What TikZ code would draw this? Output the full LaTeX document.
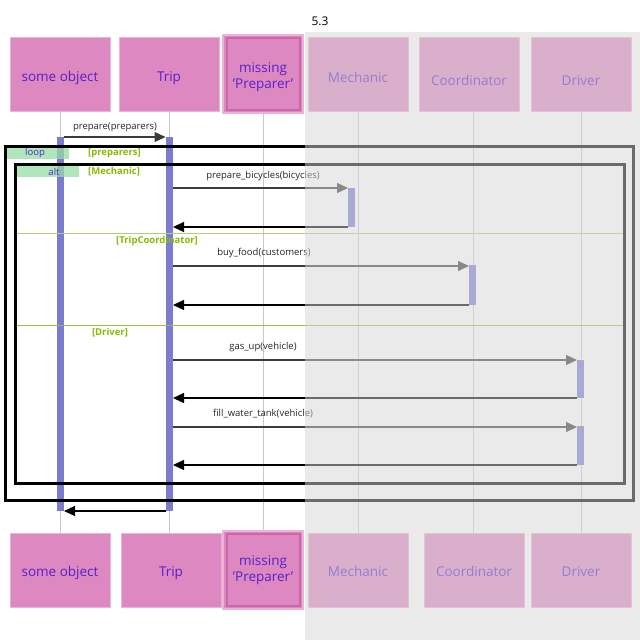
\documentclass[tikz,border=0pt]{standalone}
\usepackage{fontspec}
\setmainfont{Open Sans}
\usetikzlibrary{arrows.meta}
\definecolor{boxfill}{RGB}{221,136,192}
\definecolor{boxedge}{RGB}{234,180,214}
\definecolor{missedge}{RGB}{204,102,170}
\definecolor{boxtext}{RGB}{85,34,204}
\definecolor{actbar}{RGB}{123,123,208}
\definecolor{lifegray}{RGB}{200,200,200}
\definecolor{guardgreen}{RGB}{136,187,0}
\definecolor{taggreen}{RGB}{150,222,165}
\definecolor{sepgreen}{RGB}{176,208,120}
\definecolor{sepgreen2}{RGB}{150,190,70}
\definecolor{ovgray}{RGB}{215,215,215}
\definecolor{msgline}{RGB}{60,60,60}
\newcommand{\lowtext}[2]{\raisebox{#1}[0pt][0pt]{#2}}
\tikzset{
  objbox/.style={draw=boxedge, line width=1pt, fill=boxfill, minimum width=100pt, minimum height=74pt, inner sep=0pt, text=boxtext, font=\fontsize{13.5}{16}\selectfont, align=center},
  missbox/.style={objbox, minimum width=80pt, minimum height=78pt, draw=boxedge, line width=1.5pt},
  lifeline/.style={draw=lifegray, line width=1pt},
  actv/.style={fill=actbar, draw=none},
  frame/.style={draw=black, line width=3pt},
  tag/.style={fill=taggreen, fill opacity=0.75, text opacity=1, text=boxtext, minimum width=62pt, minimum height=11pt, inner sep=0pt, font=\fontsize{9.5}{11}\selectfont},
  guard/.style={text=guardgreen, font=\bfseries\fontsize{9.5}{11}\selectfont, inner sep=0pt},
  msglabel/.style={font=\fontsize{9.5}{11}\selectfont, text=black!85, inner sep=0pt},
  call/.style={draw=msgline, line width=1.2pt, -{Triangle[length=11pt,width=10pt]}},
  ret/.style={draw=black, line width=1.2pt, -{Triangle[length=11pt,width=10pt]}},
}
\begin{document}
\begin{tikzpicture}[x=1pt,y=-1pt]
\useasboundingbox (0,0) rectangle (640,640);
\fill[white] (0,0) rectangle (640,640);

% lifelines
\foreach \n/\x in {so/60, tr/169, mp/263, me/358, co/473, dr/581}{
  \coordinate (\n top) at (\x,111);
  \coordinate (\n bot) at (\x,533);
  \draw[lifeline] (\n top) -- (\n bot);
}

% title
\node[font=\fontsize{12}{14}\selectfont] (title) at (320,21) {5.3};

% top boxes
\node[objbox] (so1) at (60,74) {\lowtext{-7pt}{some object}};
\node[objbox] (tr1) at (169,74) {\lowtext{-7pt}{Trip}};
\node[missbox] (mp1) at (263,74) {\lowtext{-6.5pt}{\begin{tabular}{@{}c@{}}missing\\'Preparer'\end{tabular}}};
\draw[missedge, line width=2pt] (227,38) rectangle (300,110);
\node[objbox] (me1) at (358,74) {\lowtext{-8pt}{Mechanic}};
\node[objbox] (co1) at (469,74) {\lowtext{-11pt}{Coordinator}};
\node[objbox] (dr1) at (581,74) {\lowtext{-11pt}{Driver}};

% bottom boxes
\node[objbox] (so2) at (60,570) {\lowtext{-6pt}{some object}};
\node[objbox] (tr2) at (171,570) {\lowtext{-6pt}{Trip}};
\node[missbox] (mp2) at (263,570) {missing\\'Preparer'};
\draw[missedge, line width=2pt] (227,534) rectangle (300,606);
\node[objbox] (me2) at (358,570) {\lowtext{-6pt}{Mechanic}};
\node[objbox] (co2) at (474,570) {\lowtext{-6pt}{Coordinator}};
\node[objbox] (dr2) at (581,570) {\lowtext{-6pt}{Driver}};

% activation bars
\fill[actv] (56.5,137) rectangle (64,511);
\fill[actv] (165.5,137) rectangle (173,511);
\fill[actv] (348,188) rectangle (355,227);
\fill[actv] (469,265) rectangle (476,305);
\fill[actv] (577,360) rectangle (584,398);
\fill[actv] (577,426) rectangle (584,465);

% message end points
\coordinate (m1a) at (64,137);   \coordinate (m1b) at (165.5,137);
\coordinate (m2a) at (173,188);  \coordinate (m2b) at (348,188);
\coordinate (r2a) at (348,227);  \coordinate (r2b) at (173,227);
\coordinate (m3a) at (173,266);  \coordinate (m3b) at (469,266);
\coordinate (r3a) at (469,305);  \coordinate (r3b) at (173,305);
\coordinate (m4a) at (173,360);  \coordinate (m4b) at (577,360);
\coordinate (r4a) at (577,398);  \coordinate (r4b) at (173,398);
\coordinate (m5a) at (173,427);  \coordinate (m5b) at (577,427);
\coordinate (r5a) at (577,465);  \coordinate (r5b) at (173,465);
\coordinate (r1a) at (165.5,511); \coordinate (r1b) at (64,511);

% frames
\draw[frame] (5,146) rectangle (633,500);
\draw[frame] (15,164) rectangle (624,483);
\node[tag] (looptag) at (38,153.5) {\hspace{-6pt}loop};
\node[tag] (alttag) at (48,171.5) {\hspace{12pt}alt};
\node[guard, anchor=west] (g1) at (88,153.5) {[preparers]};
\node[guard, anchor=west] (g2) at (88,171.5) {[Mechanic]};

% separators
\draw[sepgreen, line width=1pt] (16.5,233) -- (622.5,233);
\node[guard] (g3) at (157,241) {[TripCoordinator]};
\draw[sepgreen2, line width=0.8pt] (16.5,325) -- (622.5,325);
\node[guard] (g4) at (110,333) {[Driver]};

% messages
\draw[call] (m1a) -- (m1b);
\node[msglabel] (l1) at (115,127) {prepare(preparers)};
\draw[call] (m2a) -- (m2b);
\node[msglabel] (l2) at (263,176) {prepare\_bicycles(bicycles)};
\draw[ret] (r2a) -- (r2b);
\draw[call] (m3a) -- (m3b);
\node[msglabel] (l3) at (264,253) {buy\_food(customers)};
\draw[ret] (r3a) -- (r3b);
\draw[call] (m4a) -- (m4b);
\node[msglabel] (l4) at (263,347) {gas\_up(vehicle)};
\draw[ret] (r4a) -- (r4b);
\draw[call] (m5a) -- (m5b);
\node[msglabel] (l5) at (263,414) {fill\_water\_tank(vehicle)};
\draw[ret] (r5a) -- (r5b);
\draw[ret] (r1a) -- (r1b);

% grey veil over the right part
\fill[ovgray, fill opacity=0.5] (305,32) rectangle (640,640);
\end{tikzpicture}
\end{document}
